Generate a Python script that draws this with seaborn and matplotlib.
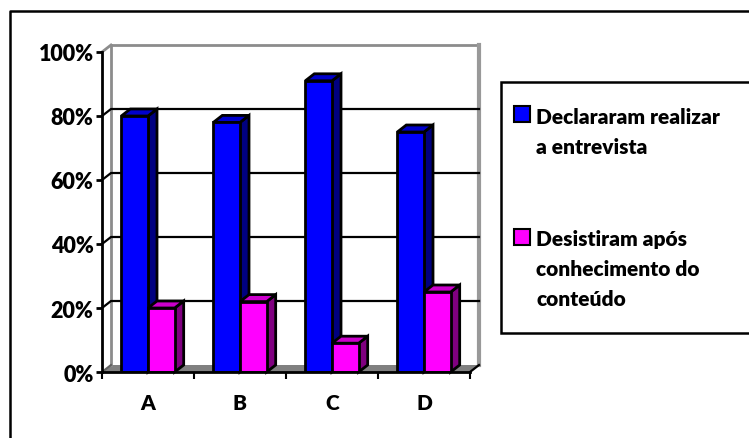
import pandas as pd
import seaborn as sns
import matplotlib.pyplot as plt
from matplotlib.legend_handler import HandlerPatch
from matplotlib.patches import Polygon, Rectangle, Patch

categories = ['A', 'B', 'C', 'D']
series_names = ['Declararam realizar\na entrevista', 'Desistiram após\nconhecimento do\nconteúdo']
realizar = [80, 78, 91, 75]
desistiram = [20, 22, 9, 25]
y_ticks = [0, 20, 40, 60, 80, 100]

W, H = 749, 439
plt.rcParams['font.family'] = ['Lato', 'DejaVu Sans']
plt.rcParams['font.weight'] = 'heavy'

df = pd.DataFrame({
    'grupo': categories * 2,
    'serie': [series_names[0]] * 4 + [series_names[1]] * 4,
    'valor': realizar + desistiram,
})

fig = plt.figure(figsize=(W / 100, H / 100), dpi=100)
# axes in pixels: x 102-470, y 53-373
ax = fig.add_axes([102 / W, 1 - 373 / H, 368 / W, 320 / H])

front = ['#0000FF', '#FF00FF']
sides = ['#000080', '#800080']
tops = ['#0000CC', '#CC00CC']
sns.barplot(data=df, x='grupo', y='valor', hue='serie', palette=front, width=0.58, gap=0,
            saturation=1, edgecolor='black', linewidth=2, legend=False, ax=ax)

ax.set_xlim(-0.5, 3.5)
ax.set_ylim(0, 100)
ax.set_xlabel('')
ax.set_ylabel('')
dx = 9 / 92
dy = 7 / 3.2

# back wall and floor
ax.add_patch(Polygon([(-0.5, 0), (-0.5 + dx, dy), (3.5 + dx, dy), (3.5, 0)], closed=True,
                     facecolor='#808080', edgecolor='none', zorder=1, clip_on=False))
wall = dict(color='#8C8C8C', lw=2, zorder=1.2, clip_on=False, solid_capstyle='projecting')
ax.plot([-0.5 + dx, -0.5 + dx], [dy, 100 + dy], **wall)
ax.plot([-0.5 + dx, 3.5 + dx], [100 + dy, 100 + dy], **wall)
ax.plot([3.5 + dx, 3.5 + dx], [dy, 100 + dy], color='#999999', lw=3, zorder=1.2, clip_on=False)
ax.plot([-0.5, -0.5 + dx], [100, 100 + dy], **wall)
for v in y_ticks[1:-1]:
    ax.plot([-0.5, -0.5 + dx, 3.5 + dx], [v, v + dy, v + dy], color='black', lw=1.6,
            zorder=1.5, clip_on=False)
ax.plot([-0.5, -0.5 + dx], [0, dy], color='#606060', lw=1.5, zorder=1.5, clip_on=False)
ax.plot([3.5, 3.5 + dx], [0, dy], color='black', lw=1.6, zorder=1.5, clip_on=False)

# 3D depth built from the bars seaborn drew
for i, cont in enumerate(ax.containers):
    for bar in cont:
        x0, x1, h = bar.get_x(), bar.get_x() + bar.get_width(), bar.get_height()
        z = 3 + i
        ax.add_patch(Polygon([(x1, 0), (x1 + dx, dy), (x1 + dx, h + dy), (x1, h)], closed=True,
                             facecolor=sides[i], edgecolor='black', lw=2, zorder=z,
                             joinstyle='miter', clip_on=False))
        ax.add_patch(Polygon([(x0, h), (x0 + dx, h + dy), (x1 + dx, h + dy), (x1, h)], closed=True,
                             facecolor=tops[i], edgecolor='black', lw=2, zorder=z,
                             joinstyle='miter', clip_on=False))
        bar.set_zorder(z + 0.5)

sns.despine(ax=ax)
ax.patch.set_visible(False)
ax.spines['left'].set_linewidth(2)
ax.spines['bottom'].set_linewidth(2)
ax.spines['left'].set_zorder(8)
ax.spines['bottom'].set_zorder(8)

ax.set_yticks(y_ticks)
ax.set_yticklabels([f'{v}%' for v in y_ticks], fontsize=15.5, fontweight='heavy')
ax.tick_params(axis='y', length=4, width=2, pad=2)
ax.set_xticks(range(4))
ax.set_xticklabels(categories, fontsize=15, fontweight='heavy')
ax.set_xticks([-0.5, 0.5, 1.5, 2.5, 3.5], minor=True)
ax.tick_params(axis='x', which='major', length=0, pad=15)
ax.tick_params(axis='x', which='minor', length=5, width=1.5)

# outer frame, cut off at the right and bottom edges
fig.add_artist(plt.Line2D([1, 10 / W, 10 / W], [1 - 11.5 / H, 1 - 11.5 / H, 0],
                          color='black', lw=1.8))
# legend box
fig.add_artist(Rectangle((501 / W, 1 - 334 / H), 260 / W, 251 / H, facecolor='white',
                         edgecolor='black', lw=1.8, transform=fig.transFigure))


# legend centres the handle on the label, move it up to the first line
def lifted(shift):
    def patch_func(legend, orig_handle, xdescent, ydescent, width, height, fontsize):
        return Rectangle((-xdescent, -ydescent + shift * fontsize), width, height)
    return patch_func


handles = [Patch(facecolor=front[i], edgecolor='black', lw=1.5) for i in range(2)]
handler_map = {handles[0]: HandlerPatch(patch_func=lifted(0.87)),
               handles[1]: HandlerPatch(patch_func=lifted(1.54))}
leg = fig.legend(handles, series_names, loc='upper left', bbox_to_anchor=(514 / W, 1 - 108 / H),
                 frameon=False, fontsize=15, handlelength=0.78, handleheight=0.78,
                 handletextpad=0.3, labelspacing=3.5, borderpad=0, borderaxespad=0,
                 alignment='left', handler_map=handler_map)
for t in leg.get_texts():
    t.set_fontweight('heavy')
    t.set_linespacing(1.68)

fig.savefig('out.png', dpi=100)
